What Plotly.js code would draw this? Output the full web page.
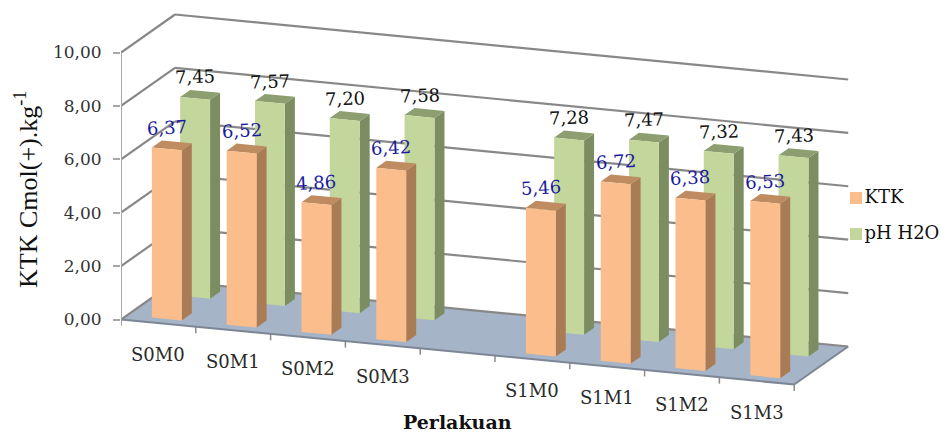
<!DOCTYPE html>
<html>
<head>
<meta charset="utf-8">
<script src="https://cdn.plot.ly/plotly-3.0.1.min.js"></script>
<style>html,body{margin:0;padding:0;background:#fff}#chart{width:946px;height:434px}</style>
</head>
<body>
<div id="chart"></div>
<script>
// Soil cation exchange capacity and pH per treatment
const categories = ['S0M0','S0M1','S0M2','S0M3','','S1M0','S1M1','S1M2','S1M3'];
const ktk = [6.37,6.52,4.86,6.42,null,5.46,6.72,6.38,6.53];
const phH2O = [7.45,7.57,7.20,7.58,null,7.28,7.47,7.32,7.43];
const yTicks = [0,2,4,6,8,10];
const seriesNames = ['KTK','pH H2O'];

// Oblique view: px per unit on each axis, floor falls to the right, depth goes up-right
const PX_V = 26.7, PX_C = 74.8;
const FLOOR_DROP = 7.22 / PX_V;   // value units lost per category along the floor
const DEPTH_X = 54 / PX_C, DEPTH_Y = 38 / PX_V;
const BAR_W = 0.40, BAR_D = 0.185;
const Y0 = 319.5, TOP = 10, BOTTOM_PX = 413, LEFT = 121, W = 946, H = 434;

const px = (c, d) => c + DEPTH_X * d;
const py = (c, d, v) => v - FLOOR_DROP * c + DEPTH_Y * d;

function poly(target, pts) {
  pts.concat([pts[0]]).forEach(p => { target.x.push(px(p[0], p[1])); target.y.push(py(p[0], p[1], p[2])); });
  target.x.push(null); target.y.push(null);
}
function line(target, a, b) {
  [a, b].forEach(p => { target.x.push(px(p[0], p[1])); target.y.push(py(p[0], p[1], p[2])); });
  target.x.push(null); target.y.push(null);
}
function face(name, color, group) {
  return {x: group.x, y: group.y, type: 'scatter', mode: 'lines', fill: 'toself', fillcolor: color,
          line: {width: 0, color: color}, hoverinfo: 'skip', showlegend: false, name: name, cliponaxis: false};
}
function stroke(group, color, width) {
  return {x: group.x, y: group.y, type: 'scatter', mode: 'lines', line: {color: color, width: width},
          hoverinfo: 'skip', showlegend: false, cliponaxis: false};
}
function barFaces(values, c0, d0, colors, name) {
  const front = {x: [], y: []}, side = {x: [], y: []}, top = {x: [], y: []};
  values.forEach((v, i) => {
    if (v === null) return;
    const a = i + c0, b = a + BAR_W, e = d0 + BAR_D;
    poly(side, [[b,d0,0],[b,e,0],[b,e,v],[b,d0,v]]);
    poly(top, [[a,d0,v],[b,d0,v],[b,e,v],[a,e,v]]);
    poly(front, [[a,d0,0],[b,d0,0],[b,d0,v],[a,d0,v]]);
  });
  return [face(name, colors[1], side), face(name, colors[2], top), face(name, colors[0], front)];
}

const N = categories.length;
const floor = {x: [], y: []};
poly(floor, [[0,0,0],[N,0,0],[N,1,0],[0,1,0]]);

const grid = {x: [], y: []};
yTicks.forEach(v => {
  line(grid, [0,0,v], [0,1,v]);
  line(grid, [0,1,v], [N,1,v]);
});
const wallEdge = {x: [], y: []};
line(wallEdge, [0,0,0], [0,0,10]);
const frontEdge = {x: [], y: []};
line(frontEdge, [0,0,0], [N,0,0]);
line(frontEdge, [N,0,0], [N,1,0]);
const floorTicks = {x: [], y: []};
for (let i = 0; i <= N; i++) line(floorTicks, [i,0,0], [i,0,-0.24]);

const KTK_C = 0.33, KTK_D = 0.115, PH_C = 0.30, PH_D = 0.68;
const traces = [
  face('floor', '#a6b4c8', floor),
  stroke(grid, '#888888', 2.2),
  stroke(floorTicks, '#8a8a8a', 1.5),
  stroke(frontEdge, '#7c8695', 2),
  stroke(wallEdge, '#a8a8a8', 2),
  ...barFaces(phH2O, PH_C, PH_D, ['#c3d69b','#7b8d61','#8d9f70'], seriesNames[1]),
  ...barFaces(ktk, KTK_C, KTK_D, ['#fbbd8b','#a97c56','#bf8c62'], seriesNames[0]),
];

const SERIF = 'DejaVu Serif';

// Key, placed to the right of the floor
const keyX = (856 - LEFT) / PX_C;
const keyColors = ['#fbbd8b', '#c3d69b'];
const keyRows = [(Y0 - 198) / PX_V, (Y0 - 234) / PX_V];
seriesNames.forEach((s, i) => traces.push({
  x: [keyX], y: [keyRows[i]], type: 'scatter', mode: 'markers+text', text: [s], textposition: 'middle right',
  marker: {symbol: 'square', size: 12, color: keyColors[i]},
  textfont: {family: SERIF, size: 18, color: '#111'},
  hoverinfo: 'skip', showlegend: false, cliponaxis: false
}));

const fmt = v => v.toFixed(2).replace('.', ',');
const annotations = [];
const LABEL_UP = 0.8;
categories.forEach((c, i) => {
  if (c) annotations.push({x: px(i + 0.5, 0), y: py(i + 0.5, 0, -1.17), text: c, showarrow: false,
    xanchor: 'center', yanchor: 'middle', font: {family: SERIF, size: 18, color: '#2a2a2a'}});
  if (ktk[i] !== null) {
    annotations.push({x: px(i + KTK_C + BAR_W / 2, KTK_D), y: py(i + KTK_C + BAR_W / 2, KTK_D, ktk[i] + LABEL_UP),
      text: fmt(ktk[i]), showarrow: false, textangle: -3, xanchor: 'center', yanchor: 'middle',
      font: {family: SERIF, size: 18, color: '#1a1aa0'}});
    annotations.push({x: px(i + PH_C + BAR_W / 2, PH_D), y: py(i + PH_C + BAR_W / 2, PH_D, phH2O[i] + LABEL_UP),
      text: fmt(phH2O[i]), showarrow: false, textangle: -2, xanchor: 'center', yanchor: 'middle',
      font: {family: SERIF, size: 18, color: '#111'}});
  }
});
const plotW = W - LEFT, plotH = BOTTOM_PX - TOP;
annotations.push({xref: 'paper', yref: 'paper', x: (457 - LEFT) / plotW, y: (BOTTOM_PX - 422) / plotH,
  text: '<b>Perlakuan</b>', showarrow: false, xanchor: 'center', yanchor: 'middle',
  font: {family: SERIF, size: 19, color: '#111'}});
annotations.push({xref: 'paper', yref: 'paper', x: (26 - LEFT) / plotW, y: (BOTTOM_PX - 190) / plotH,
  text: 'KTK Cmol(+).kg<sup>-1</sup>', textangle: -90, showarrow: false, xanchor: 'center', yanchor: 'middle',
  font: {family: 'Liberation Serif', size: 26, color: '#111'}});

const layout = {
  width: W, height: H,
  margin: {l: LEFT, r: 0, t: TOP, b: H - BOTTOM_PX, pad: 0},
  paper_bgcolor: '#fff', plot_bgcolor: '#fff',
  showlegend: false,
  xaxis: {visible: false, range: [0, plotW / PX_C], fixedrange: true},
  yaxis: {range: [(Y0 - BOTTOM_PX) / PX_V, (Y0 - TOP) / PX_V], fixedrange: true,
    tickmode: 'array', tickvals: yTicks, ticktext: yTicks.map(fmt),
    ticks: 'outside', ticklen: 7, tickwidth: 1.5, tickcolor: '#a8a8a8',
    ticklabelstandoff: 8,
    tickfont: {family: SERIF, size: 17, color: '#333'},
    showgrid: false, zeroline: false, showline: false},
  annotations: annotations
};
Plotly.newPlot('chart', traces, layout, {displayModeBar: false, responsive: false});
</script>
</body>
</html>
